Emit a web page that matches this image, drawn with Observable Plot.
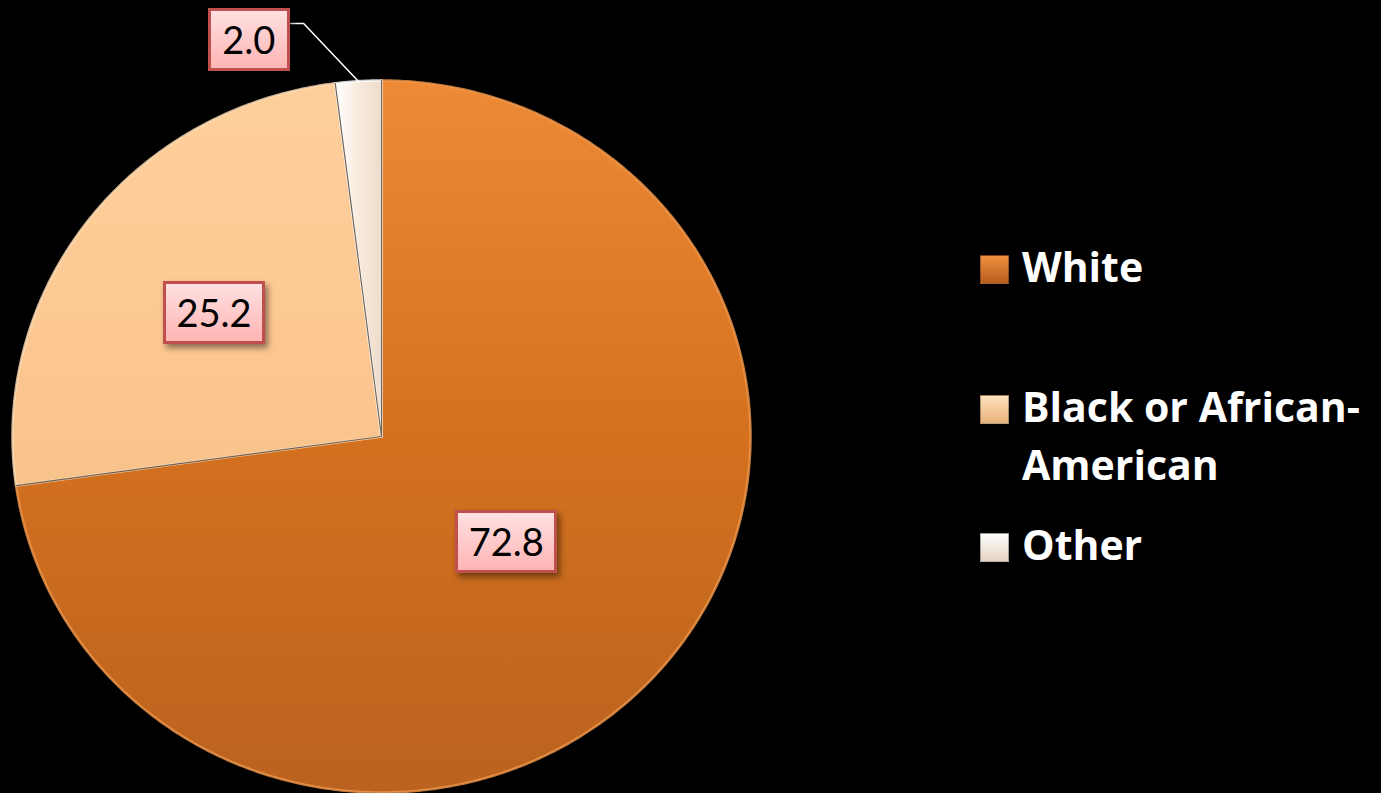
<!DOCTYPE html>
<html>
<head>
<meta charset="utf-8">
<script src="https://cdn.jsdelivr.net/npm/d3@7"></script>
<script src="https://cdn.jsdelivr.net/npm/@observablehq/plot@0.6"></script>
<style>
  html, body { margin: 0; padding: 0; background: #000; }
  #wrap { position: relative; width: 1381px; height: 793px; overflow: hidden; background: #000; }
  .lbl { position: absolute; box-sizing: border-box; border: 3px solid #C0504D;
         background: linear-gradient(#FFE0E0, #FFB4B4); color: #000;
         font-family: Lato, "Open Sans", sans-serif; font-size: 38px; text-align: center;
         box-shadow: 3px 4px 6px rgba(0,0,0,0.45); }
  .leg { position: absolute; color: #fff; font-family: "Open Sans", Lato, sans-serif;
         font-weight: bold; font-size: 41px; line-height: 58px; white-space: nowrap; }
  .sw { position: absolute; width: 29px; height: 29px; box-sizing: border-box; }
</style>
</head>
<body>
<div id="wrap"></div>
<script>
// ---- data ----
const categories = ["White", "Black or African-American", "Other"];
const values = [72.8, 25.2, 2.0];
const valueLabels = ["72.8", "25.2", "2.0"];
const legendLines = [["White"], ["Black or African-", "American"], ["Other"]];

// ---- styling ----
const gradIds = ["gWhite", "gBlack", "gOther"];
const gradStops = [
  ["#EE8A36", "#D4711F", "#BA621F"],
  ["#FECF9C", "#FDC994", "#F8C28B"],
  ["#FFFFFF", "#F8EBDD", "#EEDCCB"]
];
const swatchBg = [
  "linear-gradient(#F09040, #B85E1C)",
  "linear-gradient(#FFE2BE, #E9B27A)",
  "linear-gradient(#FFFFFF, #E4D2C0)"
];
const bevel = ["#F39A4E", "#FFDDB5", "#FFFFFF"];

// pie geometry from the data
const arcs = d3.pie().sort(null).value(d => d)(values);
const pts = [];
arcs.forEach((a, i) => {
  pts.push({slice: i, x: 0, y: 0});
  const n = Math.max(4, Math.ceil((a.endAngle - a.startAngle) / (Math.PI / 360)));
  for (let k = 0; k <= n; k++) {
    const t = a.startAngle + (a.endAngle - a.startAngle) * k / n;
    pts.push({slice: i, x: Math.sin(t), y: Math.cos(t)});
  }
  pts.push({slice: i, x: 0, y: 0});
});

// label placement factors (layout)
const labelR = [0.45, 0.57];
const labelPos = arcs.map((a, i) => {
  const m = (a.startAngle + a.endAngle) / 2;
  if (i < 2) return {x: Math.sin(m) * labelR[i], y: Math.cos(m) * labelR[i]};
  return {x: -0.358, y: 1.115};
});
const otherMid = (arcs[2].startAngle + arcs[2].endAngle) / 2;
const leader = [
  {x: Math.sin(otherMid), y: Math.cos(otherMid)},
  {x: -0.211, y: 1.16},
  {x: -0.247, y: 1.16}
];

const marks = arcs.map((a, i) =>
  Plot.line(pts.filter(p => p.slice === i), {
    x: "x", y: "y", fill: `url(#${gradIds[i]})`, stroke: bevel[i], strokeWidth: 2.5, strokeOpacity: 0.8, curve: "linear"
  })
);
// thin separators between slices
arcs.forEach(a => {
  marks.push(Plot.line([{x: 0, y: 0}, {x: Math.sin(a.startAngle), y: Math.cos(a.startAngle)}],
    {x: "x", y: "y", stroke: "#6f645a", strokeWidth: 1.2}));
});
marks.push(Plot.line(leader, {x: "x", y: "y", stroke: "#ffffff", strokeWidth: 1.5}));

const chart = Plot.plot({
  width: 1381, height: 793, margin: 0,
  style: {background: "transparent"},
  x: {domain: [-1, 1], range: [12, 750], axis: null},
  y: {domain: [-1, 1], range: [792, 80], axis: null},
  marks
});

// gradients
const svg = d3.select(chart);
const defs = svg.insert("defs", ":first-child");
gradIds.forEach((id, i) => {
  const g = defs.append("linearGradient").attr("id", id)
    .attr("x1", 0).attr("y1", 0).attr("x2", 0).attr("y2", 1);
  gradStops[i].forEach((c, j) => g.append("stop")
    .attr("offset", j / (gradStops[i].length - 1)).attr("stop-color", c));
});
defs.select("#gOther").attr("x2", 1).attr("y2", 0);

const wrap = document.getElementById("wrap");
wrap.appendChild(chart);
chart.style.position = "absolute"; chart.style.left = "0"; chart.style.top = "0";

// value labels (positioned through the plot's scales)
const sx = chart.scale("x"), sy = chart.scale("y");
const boxW = [102, 102, 82], boxH = 63;
labelPos.forEach((p, i) => {
  const d = document.createElement("div");
  d.className = "lbl";
  d.textContent = valueLabels[i];
  d.style.width = boxW[i] + "px"; d.style.height = boxH + "px";
  d.style.lineHeight = (boxH - 6) + "px";
  if (i === 2) d.style.left = (sx.apply(leader[2].x) - boxW[i]) + "px";
  else d.style.left = (sx.apply(p.x) - boxW[i] / 2) + "px";
  d.style.top = (sy.apply(p.y) - boxH / 2) + "px";
  wrap.appendChild(d);
});

// legend
const legTop = [237, 377, 515];
const swTop = [255, 395, 533];
categories.forEach((c, i) => {
  const s = document.createElement("div");
  s.className = "sw";
  s.style.left = "980px"; s.style.top = swTop[i] + "px";
  s.style.background = swatchBg[i];
  s.style.border = "1px solid rgba(0,0,0,0.3)";
  wrap.appendChild(s);
  const t = document.createElement("div");
  t.className = "leg";
  t.style.left = "1022px"; t.style.top = legTop[i] + "px";
  t.innerHTML = legendLines[i].join("<br>");
  wrap.appendChild(t);
});
</script>
</body>
</html>
